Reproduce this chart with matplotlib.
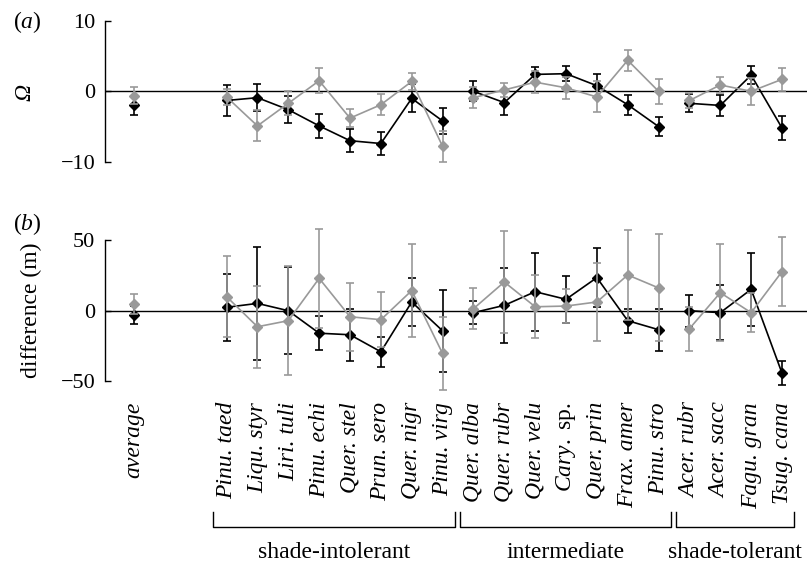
import matplotlib
matplotlib.use("Agg")
import matplotlib.pyplot as plt
from matplotlib.lines import Line2D
from matplotlib.transforms import blended_transform_factory

plt.rcParams['font.family'] = ['Liberation Serif', 'DejaVu Serif']
plt.rcParams['mathtext.fontset'] = 'custom'
plt.rcParams['mathtext.rm'] = 'Liberation Serif'
plt.rcParams['mathtext.it'] = 'Liberation Serif:italic'

# ---------------- data ----------------
labels = ['average', 'Pinu. taed', 'Liqu. styr', 'Liri. tuli', 'Pinu. echi', 'Quer. stel',
          'Prun. sero', 'Quer. nigr', 'Pinu. virg', 'Quer. alba', 'Quer. rubr', 'Quer. velu',
          'Cary. sp.', 'Quer. prin', 'Frax. amer', 'Pinu. stro', 'Acer. rubr', 'Acer. sacc',
          'Fagu. gran', 'Tsug. cana']
x_pos = [0] + list(range(3, 22))
groups = ['shade-intolerant', 'intermediate', 'shade-tolerant']
group_idx = [(1, 8), (9, 15), (16, 19)]   # first/last label index of each group

omega_black = [-2.0, -1.3, -0.9, -2.6, -4.9, -7.0, -7.4, -1.0, -4.2, 0.0,
               -1.6, 2.4, 2.5, 0.8, -1.9, -5.0, -1.7, -2.0, 2.3, -5.2]
omega_black_err = [1.3, 2.2, 1.9, 1.9, 1.7, 1.6, 1.6, 2.0, 1.9, 1.4,
                   1.7, 1.1, 1.1, 1.6, 1.4, 1.4, 1.3, 1.5, 1.3, 1.7]
omega_grey = [-0.6, -0.8, -4.9, -1.7, 1.5, -3.8, -1.9, 1.4, -7.8, -0.9,
              0.2, 1.3, 0.5, -0.8, 4.4, 0.0, -1.3, 0.9, 0.0, 1.7]
omega_grey_err = [1.2, 1.1, 2.2, 1.7, 1.8, 1.3, 1.5, 1.2, 2.2, 1.5,
                  1.0, 1.6, 1.6, 2.2, 1.5, 1.8, 1.0, 1.2, 1.9, 1.6]

diff_black = [-3.1, 2.4, 5.2, 0.0, -16.0, -17.1, -29.2, 6.2, -14.3, -1.4,
              3.8, 13.5, 8.1, 23.5, -7.1, -13.5, 0.0, -1.4, 15.2, -44.4]
diff_black_err = [6.7, 23.7, 40.0, 30.8, 12.0, 18.5, 10.7, 17.0, 29.0, 8.0,
                  26.6, 27.8, 16.7, 21.0, 8.6, 14.9, 11.5, 19.6, 26.0, 8.6]
diff_grey = [4.8, 10.0, -11.4, -7.1, 23.0, -4.3, -6.4, 14.3, -30.4, 1.4,
             20.4, 2.8, 3.3, 6.2, 25.4, 16.2, -12.8, 12.8, -1.4, 27.8]
diff_grey_err = [6.8, 29.0, 29.0, 38.7, 35.0, 24.0, 19.5, 33.0, 26.0, 14.5,
                 36.5, 22.5, 11.8, 28.0, 32.0, 38.0, 15.6, 34.6, 14.0, 24.6]

# ---------------- figure ----------------
W, H = 807, 566
fig = plt.figure(figsize=(W / 100, H / 100), dpi=100)

def fig_rect(x0, y0, x1, y1):
    return [x0 / W, 1 - y1 / H, (x1 - x0) / W, (y1 - y0) / H]

ax_a = fig.add_axes(fig_rect(105, 13.75, 807, 168.9))
ax_b = fig.add_axes(fig_rect(105, 226.3, 807, 395.1))

BLACK = '#000000'
GREY = '#999999'
FS = 17
TFS = 16

def draw(ax, yb, eb, yg, eg):
    ax.axhline(0, color='black', lw=1.0, zorder=1)
    segments = [(0, 0)] + group_idx
    for series, err, col, z in ((yb, eb, BLACK, 3), (yg, eg, GREY, 4)):
        for a, b in segments:
            xs = x_pos[a:b + 1]
            ys = series[a:b + 1]
            es = err[a:b + 1]
            ax.errorbar(xs, ys, yerr=es, fmt='-D', color=col, ms=5, lw=1.2,
                        elinewidth=1.2, capsize=3, capthick=1.2, zorder=z)
    ax.set_xlim(-0.94, 21.81)
    for s in ('top', 'right', 'bottom'):
        ax.spines[s].set_visible(False)
    ax.spines['left'].set_linewidth(1.0)
    ax.set_xticks([])
    ax.tick_params(axis='y', direction='in', length=4, width=1.0, labelsize=TFS, pad=7)

draw(ax_a, omega_black, omega_black_err, omega_grey, omega_grey_err)
ax_a.set_ylim(-11, 11)
ax_a.set_yticks([-10, 0, 10])
ax_a.spines['left'].set_bounds(-10, 10)

draw(ax_b, diff_black, diff_black_err, diff_grey, diff_grey_err)
ax_b.set_ylim(-60, 60)
ax_b.set_yticks([-50, 0, 50])
ax_b.spines['left'].set_bounds(-50, 50)

# panel labels and y labels
fig.text(27 / W, 1 - 22 / H, r'($\mathit{a}$)', fontsize=FS, ha='center', va='center')
fig.text(27 / W, 1 - 224 / H, r'($\mathit{b}$)', fontsize=FS, ha='center', va='center')
fig.text(25 / W, 1 - 92 / H, 'Ω', fontsize=FS, style='italic', rotation=90,
         ha='center', va='center')
fig.text(31 / W, 1 - 310 / H, 'difference (m)', fontsize=FS, rotation=90,
         ha='center', va='center')

# category labels
tr = blended_transform_factory(ax_b.transData, fig.transFigure)
for xp, lab in zip(x_pos, labels):
    if lab.endswith(' sp.'):
        txt = r'$\mathit{' + lab.split(' ')[0] + r'}$ sp.'
        fig.text(xp, 1 - 402 / H, txt, transform=tr, fontsize=FS, rotation=90,
                 ha='center', va='top')
    else:
        fig.text(xp, 1 - 402 / H, lab, transform=tr, fontsize=FS, style='italic',
                 rotation=90, ha='center', va='top')

# group brackets
y_top = 1 - 512 / H
y_bot = 1 - 527 / H
for name, (a, b) in zip(groups, group_idx):
    x0 = x_pos[a] - 0.45
    x1 = x_pos[b] + 0.4
    fig.add_artist(Line2D([x0, x0, x1, x1], [y_top, y_bot, y_bot, y_top],
                          transform=tr, color='black', lw=1.0, clip_on=False))
    fig.text((x0 + x1) / 2, 1 - 553 / H, name, transform=tr, fontsize=FS,
             ha='center', va='center')

fig.savefig('out.png', dpi=100)
